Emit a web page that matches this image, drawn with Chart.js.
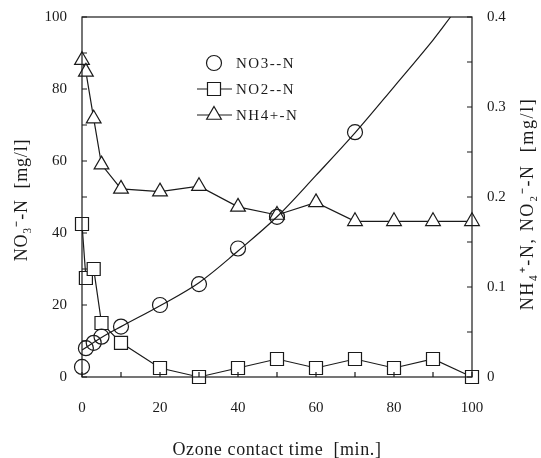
<!DOCTYPE html>
<html>
<head>
<meta charset="utf-8">
<script src="https://cdn.jsdelivr.net/npm/chart.js@4.4.1/dist/chart.umd.min.js"></script>
<style>
  html, body { margin: 0; padding: 0; background: #fff; }
  #wrap { width: 541px; height: 458px; }
</style>
</head>
<body>
<div id="wrap"><canvas id="ozoneChart"></canvas></div>
<script>
'use strict';

/* ── data ───────────────────────────────────────── */
var timeNO3 = [0, 1, 3, 5, 10, 20, 30, 40, 50, 70];
var no3     = [2.8, 8, 9.5, 11.2, 14, 20, 25.8, 35.7, 44.5, 68];

var fitTime = [0, 5, 10, 20, 30, 40, 50, 60, 70, 80, 90, 94.5];
var fitNO3  = [7.5, 11, 14, 19.8, 26.2, 35, 44.5, 56, 67.8, 80.6, 93.6, 100];

var timeN   = [0, 1, 3, 5, 10, 20, 30, 40, 50, 60, 70, 80, 90, 100];
var no2     = [0.17, 0.11, 0.12, 0.06, 0.038, 0.01, 0, 0.01, 0.02, 0.01, 0.02, 0.01, 0.02, 0];
var nh4     = [0.352, 0.339, 0.287, 0.236, 0.209, 0.206, 0.212, 0.189, 0.18, 0.194, 0.173, 0.173, 0.173, 0.173];

var legendNames = ['NO3--N', 'NO2--N', 'NH4+-N'];
var xTitle  = 'Ozone contact time  [min.]';
var yTitle  = 'NO\u2083\u207B-N  [mg/l]';
var y2Title = 'NH\u2084\u207A-N, NO\u2082\u207B-N  [mg/l]';

/* ── helpers ────────────────────────────────────── */
var INK = '#1a1a1a';
var SERIF = "'Liberation Serif', 'Times New Roman', serif";

function pts(xs, ys) {
  return xs.map(function (x, i) { return { x: x, y: ys[i] }; });
}

function spacing(ctx, v) { if ('letterSpacing' in ctx) ctx.letterSpacing = v; }

/* fixed axis boxes so the plot frame lands where the figure has it */
function fixBox(w, h) {
  return function (s) {
    if (w) s.width = w;
    if (h) s.height = h;
    s.paddingTop = 0; s.paddingBottom = 0; s.paddingLeft = 0; s.paddingRight = 0;
  };
}

/* inward tick marks, frame, legend and axis titles */
var decorPlugin = {
  id: 'decor',
  afterDraw: function (chart) {
    var ctx = chart.ctx, a = chart.chartArea;
    var sx = chart.scales.x, sy = chart.scales.y, sy2 = chart.scales.y2;
    ctx.save();
    ctx.strokeStyle = INK;
    ctx.lineWidth = 1.2;
    ctx.strokeRect(a.left, a.top, a.right - a.left, a.bottom - a.top);

    ctx.beginPath();
    sx.ticks.forEach(function (t) {
      var p = sx.getPixelForValue(t.value);
      ctx.moveTo(p, a.bottom); ctx.lineTo(p, a.bottom - 5);
    });
    sy.ticks.forEach(function (t) {
      var p = sy.getPixelForValue(t.value);
      ctx.moveTo(a.left, p); ctx.lineTo(a.left + 5, p);
    });
    sy2.ticks.forEach(function (t) {
      var p = sy2.getPixelForValue(t.value);
      ctx.moveTo(a.right, p); ctx.lineTo(a.right - 5, p);
    });
    ctx.stroke();

    /* legend */
    var rows = [63, 89, 115], mx = 214;
    ctx.font = '15px ' + SERIF;
    ctx.textBaseline = 'middle';
    ctx.textAlign = 'left';
    ctx.fillStyle = INK;
    spacing(ctx, '1.5px');
    [0, 1, 2].forEach(function (i) {
      var ds = chart.data.datasets[i];
      var y = rows[i];
      if (i > 0) {
        ctx.beginPath(); ctx.moveTo(mx - 17, y); ctx.lineTo(mx + 18, y); ctx.stroke();
      }
      ctx.fillStyle = '#fff';
      Chart.helpers.drawPoint(ctx, { pointStyle: ds.pointStyle, radius: ds.pointRadius, borderWidth: 1.2, rotation: 0 }, mx, y);
      ctx.fillStyle = INK;
      ctx.fillText(legendNames[i], 236, y + 1);
    });

    /* axis titles */
    ctx.textAlign = 'center';
    ctx.font = '18px ' + SERIF;
    spacing(ctx, '0.6px');
    ctx.fillText(xTitle, 277, 450);

    spacing(ctx, '0.8px');
    ctx.save();
    ctx.translate(22, 200);
    ctx.rotate(-Math.PI / 2);
    ctx.fillText(yTitle, 0, 0);
    ctx.restore();

    spacing(ctx, '1.6px');
    ctx.save();
    ctx.translate(528, 204);
    ctx.rotate(-Math.PI / 2);
    ctx.fillText(y2Title, 0, 0);
    ctx.restore();
    spacing(ctx, '0px');
    ctx.restore();
  }
};

var tickFont = { family: SERIF, size: 15 };

new Chart(document.getElementById('ozoneChart'), {
  type: 'line',
  data: {
    datasets: [
      { label: legendNames[0], data: pts(timeNO3, no3), yAxisID: 'y', showLine: false,
        pointStyle: 'circle', pointRadius: 7.5, pointBorderWidth: 1.2,
        pointBorderColor: INK, pointBackgroundColor: 'rgba(255,255,255,0)', clip: false, order: 1 },
      { label: legendNames[1], data: pts(timeN, no2), yAxisID: 'y2',
        borderColor: INK, borderWidth: 1.2, tension: 0,
        pointStyle: 'rect', pointRadius: 9.2, pointBorderWidth: 1.2,
        pointBorderColor: INK, pointBackgroundColor: '#fff', clip: false, order: 2 },
      { label: legendNames[2], data: pts(timeN, nh4), yAxisID: 'y2',
        borderColor: INK, borderWidth: 1.2, tension: 0,
        pointStyle: 'triangle', pointRadius: 8.5, pointBorderWidth: 1.2,
        pointBorderColor: INK, pointBackgroundColor: '#fff', clip: false, order: 3 },
      { label: 'fit', data: pts(fitTime, fitNO3), yAxisID: 'y',
        borderColor: INK, borderWidth: 1.2, tension: 0.35,
        pointRadius: 0, order: 0 }
    ]
  },
  options: {
    responsive: true, maintainAspectRatio: false, animation: false,
    layout: { padding: { top: 17, right: 0, bottom: 0, left: 0 } },
    plugins: { legend: { display: false }, tooltip: { enabled: false } },
    scales: {
      x: {
        type: 'linear', min: 0, max: 100,
        afterFit: fixBox(0, 81),
        grid: { display: false, drawTicks: false },
        border: { display: false },
        ticks: { stepSize: 10, autoSkip: false, maxRotation: 0, padding: 22, color: INK, font: tickFont,
          callback: function (v) { return v % 20 === 0 ? String(v) : ''; } }
      },
      y: {
        position: 'left', min: 0, max: 100,
        afterFit: fixBox(82, 0),
        grid: { display: false, drawTicks: false },
        border: { display: false },
        ticks: { stepSize: 10, autoSkip: false, padding: 15, color: INK, font: tickFont,
          callback: function (v) { return v % 20 === 0 ? String(v) : ''; } }
      },
      y2: {
        position: 'right', min: 0, max: 0.4,
        afterFit: fixBox(69, 0),
        grid: { display: false, drawTicks: false },
        border: { display: false },
        ticks: { stepSize: 0.05, autoSkip: false, padding: 15, color: INK, font: tickFont,
          callback: function (v) {
            if (Math.abs(v * 10 - Math.round(v * 10)) > 1e-6) return '';
            return v === 0 ? '0' : v.toFixed(1);
          } }
      }
    }
  },
  plugins: [decorPlugin]
});
</script>
</body>
</html>
